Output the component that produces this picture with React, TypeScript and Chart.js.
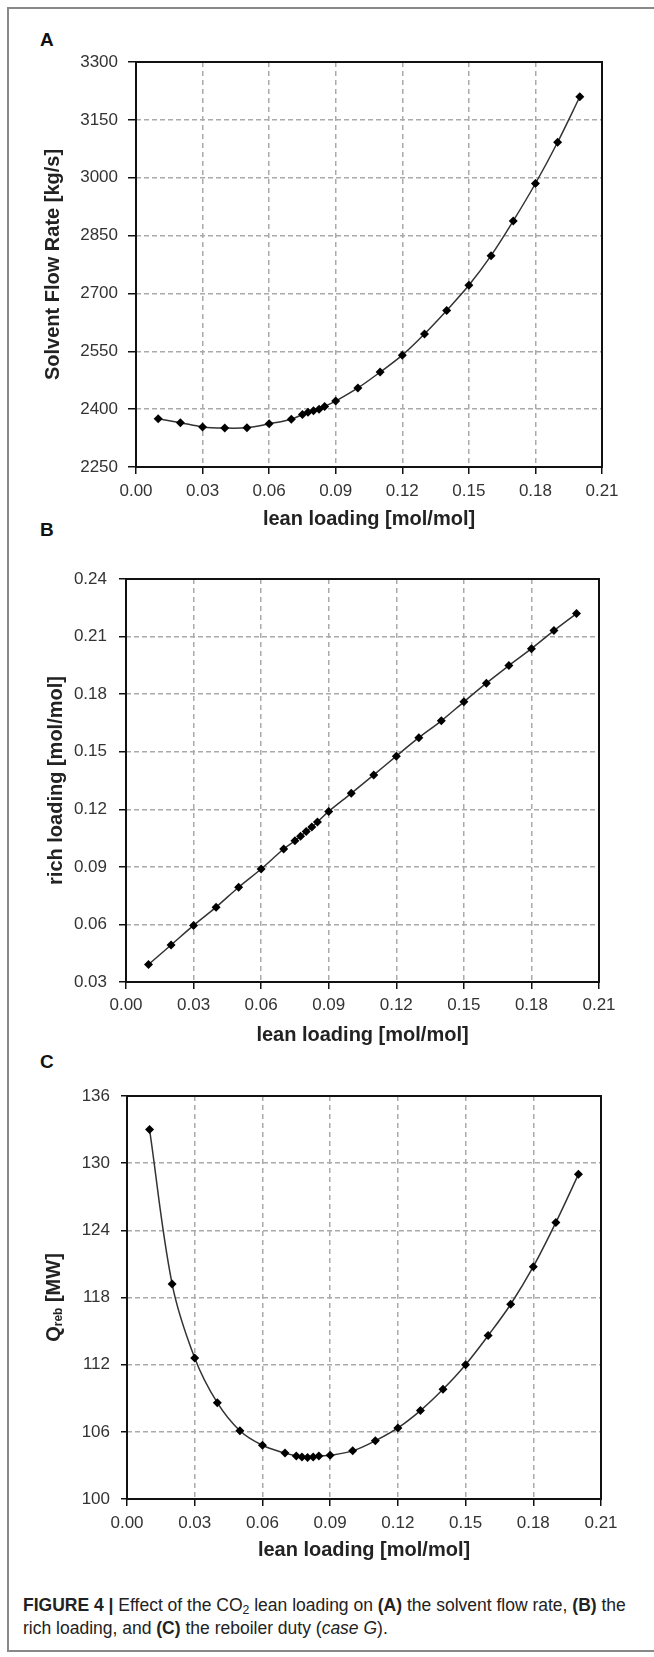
import React, { useEffect, useRef } from "react";
import { Chart, registerables } from "chart.js";

Chart.register(...registerables);

// ---------- data ----------
const leanLoading = [
  0.01, 0.02, 0.03, 0.04, 0.05, 0.06, 0.07, 0.075, 0.0775, 0.08, 0.0825, 0.085,
  0.09, 0.1, 0.11, 0.12, 0.13, 0.14, 0.15, 0.16, 0.17, 0.18, 0.19, 0.2,
];

const solventFlowRate = [
  2375, 2365, 2354, 2351, 2352, 2362, 2374, 2386, 2392, 2396, 2400, 2407,
  2421, 2455, 2496, 2540, 2595, 2656, 2721, 2798, 2888, 2985, 3092, 3210,
];

const richLoading = [
  0.0391, 0.0493, 0.0595, 0.069, 0.0794, 0.0889, 0.0993, 0.1036, 0.106, 0.1084,
  0.1108, 0.1134, 0.1189, 0.1283, 0.1379, 0.1477, 0.1573, 0.1661, 0.176, 0.1857,
  0.1949, 0.2037, 0.2131, 0.222,
];

const reboilerDuty = [
  133.0, 119.2, 112.6, 108.6, 106.1, 104.8, 104.1, 103.85, 103.75, 103.7, 103.75,
  103.85, 103.9, 104.3, 105.2, 106.35, 107.9, 109.8, 112.0, 114.6, 117.4, 120.75,
  124.7, 129.0,
];

const xTickValues = [0, 0.03, 0.06, 0.09, 0.12, 0.15, 0.18, 0.21];
const xTickLabels = ["0.00", "0.03", "0.06", "0.09", "0.12", "0.15", "0.18", "0.21"];

const yTicksA = [2250, 2400, 2550, 2700, 2850, 3000, 3150, 3300];
const yTickLabelsA = ["2250", "2400", "2550", "2700", "2850", "3000", "3150", "3300"];

const yTicksB = [0.03, 0.06, 0.09, 0.12, 0.15, 0.18, 0.21, 0.24];
const yTickLabelsB = ["0.03", "0.06", "0.09", "0.12", "0.15", "0.18", "0.21", "0.24"];

const yTicksC = [100, 106, 112, 118, 124, 130, 136];
const yTickLabelsC = ["100", "106", "112", "118", "124", "130", "136"];

const xTitle = "lean loading [mol/mol]";
const yTitleA = "Solvent Flow Rate [kg/s]";
const yTitleB = "rich loading [mol/mol]";
const yTitleCMain = "Q";
const yTitleCSub = "reb";
const yTitleCRest = " [MW]";

const FONT = "'Liberation Sans', Arial, Helvetica, sans-serif";

type PanelProps = {
  top: number;
  height: number;
  plotLeft: number;
  plotRight: number;
  plotTop: number;
  xAxisHeight: number;
  values: number[];
  yTicks: number[];
  yLabels: string[];
  yTitle: string | null;
  yTitleCenter: number;
  yTickLen: number;
  yTickPad: number;
  xTickPad: number;
};

const boxPlugin = {
  id: "plotBox",
  beforeDatasetsDraw(chart: any) {
    const { ctx, chartArea } = chart;
    ctx.save();
    ctx.strokeStyle = "#111";
    ctx.lineWidth = 2;
    ctx.setLineDash([]);
    ctx.strokeRect(
      chartArea.left,
      chartArea.top,
      chartArea.right - chartArea.left,
      chartArea.bottom - chartArea.top
    );
    ctx.restore();
  },
};

function makeQTitlePlugin(cx: number) {
  return {
    id: "qTitle",
    afterDraw(chart: any) {
      const { ctx, chartArea } = chart;
      ctx.save();
      ctx.translate(cx, (chartArea.top + chartArea.bottom) / 2);
      ctx.rotate(-Math.PI / 2);
      ctx.fillStyle = "#222";
      ctx.textAlign = "left";
      ctx.textBaseline = "middle";
      const big = `bold 20px ${FONT}`;
      const small = `bold 12px ${FONT}`;
      ctx.font = big;
      const wQ = ctx.measureText(yTitleCMain).width;
      const wRest = ctx.measureText(yTitleCRest).width;
      ctx.font = small;
      const wSub = ctx.measureText(yTitleCSub).width;
      let x = -(wQ + wSub + wRest) / 2;
      ctx.font = big;
      ctx.fillText(yTitleCMain, x, 0);
      x += wQ;
      ctx.font = small;
      ctx.fillText(yTitleCSub, x, 5);
      x += wSub;
      ctx.font = big;
      ctx.fillText(yTitleCRest, x, 0);
      ctx.restore();
    },
  };
}

function Panel(p: PanelProps) {
  const ref = useRef<HTMLCanvasElement>(null);
  useEffect(() => {
    const canvas = ref.current;
    if (!canvas) return;
    const gridColor = "#aaaaaa";
    const plugins: any[] = [boxPlugin];
    if (!p.yTitle) plugins.push(makeQTitlePlugin(p.yTitleCenter));
    const chart = new Chart(canvas, {
      type: "line",
      data: {
        datasets: [
          {
            data: leanLoading.map((x, i) => ({ x, y: p.values[i] })),
            borderColor: "#333",
            borderWidth: 1.5,
            tension: 0.35,
            fill: false,
            pointStyle: "rectRot",
            pointRadius: 4.5,
            pointBackgroundColor: "#000",
            pointBorderColor: "#000",
            pointBorderWidth: 0,
          },
        ],
      },
      options: {
        responsive: false,
        animation: false,
        devicePixelRatio: 1,
        events: [],
        layout: {
          padding: {
            left: 0,
            right: 654 - p.plotRight,
            top: p.plotTop - p.top,
            bottom: 0,
          },
        },
        plugins: {
          legend: { display: false },
          tooltip: { enabled: false },
        },
        scales: {
          x: {
            type: "linear",
            min: xTickValues[0],
            max: xTickValues[xTickValues.length - 1],
            afterBuildTicks: (s: any) => {
              s.ticks = xTickValues.map((v) => ({ value: v }));
            },
            afterFit: (s: any) => {
              s.height = p.xAxisHeight;
            },
            ticks: {
              callback: (_v: any, i: number) => xTickLabels[i],
              font: { family: FONT, size: 17 },
              color: "#333",
              padding: p.xTickPad,
              maxRotation: 0,
              autoSkip: false,
            },
            grid: {
              color: gridColor,
              lineWidth: 1.5,
              tickColor: "#111",
              tickLength: 7,
              tickWidth: 1.5,
              tickBorderDash: [],
            },
            border: { display: false, dash: [5, 4] },
            title: {
              display: true,
              text: xTitle,
              font: { family: FONT, size: 20, weight: "bold", lineHeight: 1.2 },
              color: "#222",
              padding: 0,
            },
          },
          y: {
            type: "linear",
            min: p.yTicks[0],
            max: p.yTicks[p.yTicks.length - 1],
            afterBuildTicks: (s: any) => {
              s.ticks = p.yTicks.map((v) => ({ value: v }));
            },
            afterFit: (s: any) => {
              s.width = p.plotLeft;
            },
            ticks: {
              callback: (_v: any, i: number) => p.yLabels[i],
              font: { family: FONT, size: 17 },
              color: "#333",
              padding: p.yTickPad,
              autoSkip: false,
            },
            grid: {
              color: gridColor,
              lineWidth: 1.5,
              tickColor: "#111",
              tickLength: p.yTickLen,
              tickWidth: 1.5,
              tickBorderDash: [],
            },
            border: { display: false, dash: [5, 3] },
            title: {
              display: !!p.yTitle,
              text: p.yTitle || "",
              font: { family: FONT, size: 20, weight: "bold", lineHeight: 1.2 },
              color: "#222",
              padding: { top: p.yTitleCenter - 12, bottom: 0 },
            },
          },
        },
      },
      plugins,
    } as any);
    return () => chart.destroy();
  }, []);
  return (
    <canvas
      ref={ref}
      width={654}
      height={p.height}
      style={{
        position: "absolute",
        left: 0,
        top: p.top,
        width: 654,
        height: p.height,
        display: "block",
      }}
    />
  );
}

const letterStyle = (top: number): React.CSSProperties => ({
  position: "absolute",
  left: 40,
  top,
  font: `bold 19px ${FONT}`,
  lineHeight: "20px",
  color: "#111",
});

export default function App() {
  return (
    <div
      style={{
        position: "absolute",
        left: 0,
        top: 0,
        width: 654,
        height: 1657,
        overflow: "hidden",
        background: "#fff",
      }}
    >
      <div
        style={{
          position: "absolute",
          left: 7,
          top: 7,
          width: 680,
          height: 1645,
          border: "2px solid #888",
          boxSizing: "border-box",
        }}
      />
      <div style={letterStyle(30)}>A</div>
      <div style={letterStyle(520)}>B</div>
      <div style={letterStyle(1052)}>C</div>

      <Panel
        top={20}
        height={511}
        plotLeft={136}
        plotRight={602}
        plotTop={62}
        xAxisHeight={64}
        values={solventFlowRate}
        yTicks={yTicksA}
        yLabels={yTickLabelsA}
        yTitle={yTitleA}
        yTitleCenter={53}
        yTickLen={8}
        yTickPad={10}
        xTickPad={7}
      />
      <Panel
        top={540}
        height={507}
        plotLeft={126}
        plotRight={599}
        plotTop={579}
        xAxisHeight={65}
        values={richLoading}
        yTicks={yTicksB}
        yLabels={yTickLabelsB}
        yTitle={yTitleB}
        yTitleCenter={56}
        yTickLen={7}
        yTickPad={12}
        xTickPad={6}
      />
      <Panel
        top={1070}
        height={492}
        plotLeft={127}
        plotRight={601}
        plotTop={1096}
        xAxisHeight={63}
        values={reboilerDuty}
        yTicks={yTicksC}
        yLabels={yTickLabelsC}
        yTitle={null}
        yTitleCenter={54}
        yTickLen={6}
        yTickPad={11}
        xTickPad={7}
      />

      <div
        style={{
          position: "absolute",
          left: 23,
          top: 1594,
          width: 640,
          font: `17.5px ${FONT}`,
          lineHeight: "23px",
          color: "#222",
          whiteSpace: "nowrap",
        }}
      >
        <div>
          <b>FIGURE 4 |</b> Effect of the CO
          <sub style={{ fontSize: "0.7em", verticalAlign: "-0.25em", lineHeight: 0 }}>2</sub>{" "}
          lean loading on <b>(A)</b> the solvent flow rate, <b>(B)</b> the
        </div>
        <div>
          rich loading, and <b>(C)</b> the reboiler duty (<i>case G</i>).
        </div>
      </div>
    </div>
  );
}
